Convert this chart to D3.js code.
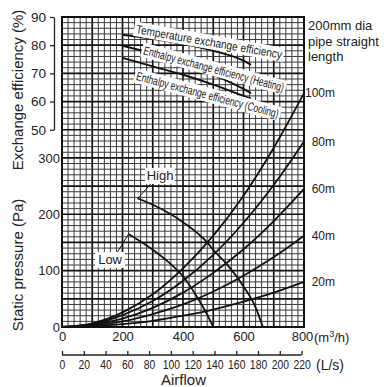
<!DOCTYPE html>
<html>
<head>
<meta charset="utf-8">
<script src="https://cdn.jsdelivr.net/npm/d3@7"></script>
<style>
  body { margin: 0; background: #fff; }
  svg { display: block; font-family: "Liberation Sans", Arial, sans-serif; }
</style>
</head>
<body>
<div id="chart"></div>
<script>
// axis ticks
var flowTicks = [0, 200, 400, 600, 800];          // m3/h
var lsTicks = [0, 20, 40, 60, 80, 100, 120, 140, 160, 180, 200, 220]; // L/s
var pressureTicks = [0, 100, 200, 300];
var effTicks = [50, 60, 70, 80, 90];

// duct resistance curves (200mm dia pipe), pressure in Pa
var pipeFlow = [0, 100, 200, 300, 400, 500, 600, 700, 800];
var pipeNames = ["20m", "40m", "60m", "80m", "100m"];
var pipe20 = [0, 1.3, 5, 11, 20, 31, 45, 61, 80];
var pipe40 = [0, 2.5, 10, 23, 40, 63, 91, 124, 162];
var pipe60 = [0, 4, 15, 34, 61, 96, 138, 188, 245];
var pipe80 = [0, 5, 21, 46, 82, 128, 185, 252, 329];
var pipe100 = [0, 6.5, 26, 58, 104, 162, 233, 318, 415];

// fan curves
var highFlow = [250, 300, 400, 480, 500, 550, 600, 640, 664];
var highPressure = [228, 217, 186, 150, 137, 108, 72, 35, 0];
var lowFlow = [220, 300, 350, 400, 450, 480, 500];
var lowPressure = [165, 137, 116, 90, 50, 22, 0];

// exchange efficiency (%)
var effFlow = [200, 300, 400, 500, 600, 625];
var tempEff = [83.7, 82.3, 80.5, 78, 74.5, 73];
var heatEff = [79.8, 77, 73.5, 69.5, 64.5, 63];
var coolEff = [75.5, 72.5, 69.5, 66, 62, 61];

var W = 384, H = 387;
var svg = d3.select('#chart').append('svg')
  .attr('width', W)
  .attr('height', H);

var x = d3.scaleLinear().domain([0, 800]).range([62, 304]);
var xLs = d3.scaleLinear().domain([0, 800 / 3.6]).range([62, 304]);
var yP = d3.scaleLinear().domain([0, 550]).range([327, 17]);
var yE = d3.scaleLinear().domain([50, 90]).range([yP(350), 17]);

// grid
var grid = svg.append('g');
grid.selectAll('line.v')
  .data(d3.range(0, 801, 20))
  .enter().append('line')
  .attr('x1', function (d) { return x(d); })
  .attr('x2', function (d) { return x(d); })
  .attr('y1', yP(0))
  .attr('y2', yP(550))
  .style('stroke', function (d) { return d % 100 == 0 ? '#111' : '#3a3a3a'; })
  .style('stroke-width', function (d) { return d % 100 == 0 ? 1.7 : 1; });

grid.selectAll('line.h')
  .data(d3.range(0, 551, 10))
  .enter().append('line')
  .attr('x1', x(0))
  .attr('x2', x(800))
  .attr('y1', function (d) { return yP(d); })
  .attr('y2', function (d) { return yP(d); })
  .style('stroke', function (d) { return d % 50 == 0 ? '#111' : '#3a3a3a'; })
  .style('stroke-width', function (d) { return d % 50 == 0 ? 1.7 : 1; });

svg.append('rect')
  .attr('x', x(0)).attr('y', yP(550))
  .attr('width', x(800) - x(0)).attr('height', yP(0) - yP(550))
  .style('fill', 'none').style('stroke', '#111').style('stroke-width', 2);

// curves
var lineFlow = d3.line()
  .x(function (d) { return x(d[0]); })
  .y(function (d) { return yP(d[1]); })
  .curve(d3.curveMonotoneX);

var pipes = [pipe20, pipe40, pipe60, pipe80, pipe100];
pipes.forEach(function (vals, k) {
  svg.append('path')
    .attr('d', lineFlow(pipeFlow.map(function (q, i) { return [q, vals[i]]; })))
    .style('fill', 'none').style('stroke', '#111').style('stroke-width', 1.8);

  svg.append('text')
    .text(pipeNames[k])
    .attr('x', 335)
    .attr('y', yP(vals[vals.length - 1]))
    .attr('dy', '0.35em')
    .attr('text-anchor', 'end')
    .style('font-size', '12px')
    .style('fill', '#222');
});

svg.append('path')
  .attr('d', lineFlow(highFlow.map(function (q, i) { return [q, highPressure[i]]; })))
  .style('fill', 'none').style('stroke', '#111').style('stroke-width', 1.8);
svg.append('path')
  .attr('d', lineFlow(lowFlow.map(function (q, i) { return [q, lowPressure[i]]; })))
  .style('fill', 'none').style('stroke', '#111').style('stroke-width', 1.8);

var lineEff = d3.line()
  .x(function (d) { return x(d[0]); })
  .y(function (d) { return yE(d[1]); })
  .curve(d3.curveMonotoneX);

[tempEff, heatEff, coolEff].forEach(function (vals) {
  svg.append('path')
    .attr('d', lineEff(effFlow.map(function (q, i) { return [q, vals[i]]; })))
    .style('fill', 'none').style('stroke', '#111').style('stroke-width', 1.9);
});

// rotated labels with white box
function boxLabel(txt, cx, cy, angle, len, fs) {
  var g = svg.append('g')
    .attr('transform', 'translate(' + cx + ',' + cy + ') rotate(' + angle + ')');
  g.append('rect')
    .attr('x', -len / 2 - 2).attr('y', -fs * 0.6)
    .attr('width', len + 4).attr('height', fs * 1.2)
    .style('fill', '#fff');
  g.append('text')
    .text(txt)
    .attr('text-anchor', 'middle')
    .attr('dy', '0.35em')
    .attr('textLength', len)
    .attr('lengthAdjust', 'spacingAndGlyphs')
    .style('font-size', fs + 'px')
    .style('fill', '#222');
}

boxLabel('Temperature exchange efficiency', x(486), yE(81.2), 10, 148, 12);
boxLabel('Enthalpy exchange efficiency (Heating)', x(502), yE(71.6), 15, 145, 12);
boxLabel('Enthalpy exchange efficiency (Cooling)', x(481), yE(62.4), 15, 147, 12);

// High / Low callouts
svg.append('line')
  .attr('x1', x(300)).attr('y1', yP(258))
  .attr('x2', x(highFlow[0])).attr('y2', yP(highPressure[0]))
  .style('stroke', '#111').style('stroke-width', 1);
svg.append('line')
  .attr('x1', x(180)).attr('y1', yP(130))
  .attr('x2', x(lowFlow[0])).attr('y2', yP(lowPressure[0]))
  .style('stroke', '#111').style('stroke-width', 1);

function callout(txt, cx, cy) {
  svg.append('rect')
    .attr('x', cx - 15).attr('y', cy - 8)
    .attr('width', 30).attr('height', 16)
    .style('fill', '#fff');
  svg.append('text')
    .text(txt)
    .attr('x', cx).attr('y', cy)
    .attr('dy', '0.35em')
    .attr('text-anchor', 'middle')
    .style('font-size', '13px')
    .style('fill', '#222');
}
callout('High', x(324), yP(268));
callout('Low', x(159), yP(119));

// efficiency axis
var effAxis = svg.append('g')
  .attr('transform', 'translate(54,0)')
  .call(d3.axisLeft(yE).tickValues(effTicks).tickSize(4).tickSizeOuter(0).tickPadding(4));
effAxis.selectAll('text').style('font-size', '13.5px').style('fill', '#222');
effAxis.selectAll('path, line').style('stroke', '#222').style('stroke-width', 1.3);

// pressure axis
var pAxis = svg.append('g')
  .attr('transform', 'translate(' + x(0) + ',0)')
  .call(d3.axisLeft(yP).tickValues(pressureTicks).tickSize(0).tickPadding(2));
pAxis.select('.domain').remove();
pAxis.selectAll('text').style('font-size', '13px').style('fill', '#222');

// m3/h axis
var fAxis = svg.append('g')
  .attr('transform', 'translate(0,' + yP(0) + ')')
  .call(d3.axisBottom(x).tickValues(flowTicks).tickSize(0).tickPadding(5));
fAxis.select('.domain').remove();
fAxis.selectAll('text').style('font-size', '13px').style('fill', '#222');
fAxis.selectAll('.tick:last-of-type text').attr('x', -2);

svg.append('text')
  .attr('x', 314).attr('y', 341.5)
  .style('font-size', '13px').style('fill', '#222')
  .html('(m<tspan dy="-5" style="font-size:9px">3</tspan><tspan dy="5">/h)</tspan>');

// L/s axis
var lAxis = svg.append('g')
  .attr('transform', 'translate(0,355)')
  .call(d3.axisBottom(xLs).tickValues(lsTicks).tickSize(-4).tickSizeOuter(0).tickPadding(5));
lAxis.select('.domain').remove();
lAxis.append('line')
  .attr('x1', xLs(0)).attr('x2', xLs(220))
  .style('stroke', '#222').style('stroke-width', 1.3);
lAxis.selectAll('.tick line').style('stroke', '#222').style('stroke-width', 1.3);
lAxis.selectAll('text')
  .style('font-size', '13px').style('fill', '#222')
  .attr('transform', 'scale(0.8,1)');

svg.append('text')
  .text('(L/s)')
  .attr('x', 316).attr('y', 369.5)
  .style('font-size', '14px').style('fill', '#222');

// titles
svg.append('text')
  .text('Airflow')
  .attr('x', 183.5).attr('y', 385)
  .attr('text-anchor', 'middle')
  .style('font-size', '15px').style('fill', '#222');

svg.append('text')
  .text('Exchange efficiency (%)')
  .attr('transform', 'translate(23,90) rotate(-90)')
  .attr('text-anchor', 'middle')
  .style('font-size', '15px').style('fill', '#222');

svg.append('text')
  .text('Static pressure (Pa)')
  .attr('transform', 'translate(23,265) rotate(-90)')
  .attr('text-anchor', 'middle')
  .style('font-size', '15px').style('fill', '#222');

var rl = ['200mm dia', 'pipe straight', 'length'];
rl.forEach(function (t, i) {
  svg.append('text')
    .text(t)
    .attr('x', 308).attr('y', 30 + i * 15.5)
    .style('font-size', '13px').style('fill', '#222');
});
</script>
</body>
</html>
